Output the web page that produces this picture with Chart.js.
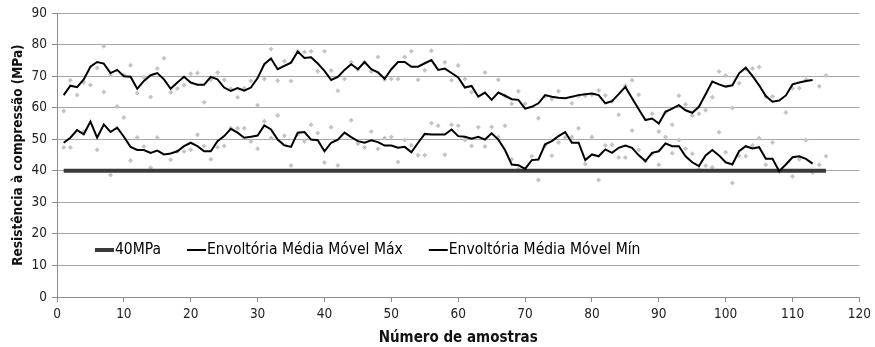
<!DOCTYPE html>
<html>
<head>
<meta charset="utf-8">
<script src="https://cdn.jsdelivr.net/npm/chart.js@4"></script>
<style>
  html, body { margin: 0; padding: 0; background: #fff; }
  #wrap { width: 875px; height: 347px; }
</style>
</head>
<body>
<div id="wrap"><canvas id="grafico"></canvas></div>
<script>
// Moving-average envelopes (samples 1..113)
const mediaMovelMax = [
  64, 67, 66.5, 69, 73, 74.5, 74, 71, 72, 70, 69.8, 66, 68.5, 70.3, 71, 69, 66, 68, 69.8, 68,
  67.3, 67.3, 69.8, 69, 66.4, 65.3, 66.2, 65.4, 66.4, 69.4, 73.8, 75.6, 72.2, 73.3, 74.3, 77.8, 75.8, 76, 74, 71.7,
  68.8, 69.8, 72, 73.8, 72.2, 74.5, 72.2, 71.2, 69.2, 72.2, 74.5, 74.5, 73, 73, 74.1, 75.1, 72, 72.4, 71, 69.6,
  66.4, 66.9, 63.5, 64.8, 62.5, 64.8, 63.8, 62.7, 62.5, 59.7, 60.3, 61.4, 64, 63.5, 63.2, 63, 63.5, 64, 64.3, 64.5,
  64, 61.4, 62.1, 64.3, 66.6, 63, 59.5, 56.1, 56.6, 55, 58.7, 59.7, 60.8, 59.2, 58.4, 60.3, 64.3, 68.3, 67.4, 66.7,
  67.1, 70.9, 72.7, 70.1, 67.1, 63.7, 61.9, 62.3, 63.9, 67.4, 68, 68.5, 68.8
];
const mediaMovelMin = [
  48.9, 50.5, 52.9, 51.6, 55.6, 50.5, 54.7, 52.3, 53.7, 50.8, 47.6, 46.6, 46.6, 45.7, 46.4, 45.2, 45.5, 46.2, 47.8, 48.9,
  47.8, 46.2, 46.2, 49.4, 51, 53.3, 52.1, 50.5, 50.8, 51.2, 54.4, 53.1, 49.9, 48.1, 47.6, 52.1, 52.3, 49.9, 49.7, 46.2,
  48.9, 49.9, 52.1, 50.7, 49.4, 48.9, 49.7, 49.1, 48, 48, 47.3, 47.6, 45.9, 48.9, 51.7, 51.5, 51.5, 51.5, 53.1, 51,
  50.8, 50.2, 50.8, 49.9, 51.9, 49.9, 46.6, 42, 41.8, 40.6, 43.4, 43.6, 48.4, 49.4, 51, 52.3, 48.9, 48.9, 43.4, 45.2,
  44.6, 46.8, 45.7, 47.3, 48, 47.3, 44.9, 43.1, 45.7, 46.2, 48.7, 47.8, 47.8, 44.6, 42.7, 41.5, 44.9, 46.6, 44.9, 42.7,
  42, 46.2, 47.8, 47.1, 47.5, 43.8, 43.8, 39.9, 42, 44.3, 44.6, 43.8, 42.3
];

// Individual results per sample (1..115), two readings each
const ensaio1 = [
  59, 68.7, 64, 68, 67.2, 72.6, 79.5, 70.5, 60.4, 70.4, 73.5, 64.7, 69.7, 63.4, 72.4, 75.7, 64.9, 66.1, 67.2, 70.8,
  71, 61.7, 68.9, 71.2, 68.9, 66, 63.3, 66.2, 68.5, 60.8, 69.1, 78.6, 68.6, 74.7, 68.5, 77.9, 77.7, 77.9, 71.6, 77.9,
  71.8, 65.4, 69.1, 74.4, 72.1, 74.4, 71.5, 76.1, 68.9, 69.1, 69.1, 76.1, 77.9, 68.9, 71.9, 78.1, null, 74.4, 68.7, 73.4,
  69.1, 64.9, null, 71.2, null, 68.9, 63.8, 61.3, 65.2, 61.3, null, 56.7, 63.6, 62.8, 65.2, null, 61.4, 63.7, 63.8, 64.1,
  65.5, 63.9, 62, 57.8, 67, 68.7, 64.1, null, 58.1, 52.5, 58.5, 54.6, 63.8, 61, 57.5, 58.1, 59.2, 63.3, 71.5, 70.2,
  59.9, 67.8, 72.3, 72.4, 72.9, 63.6, 63.6, null, 58.5, 66.2, 66.2, 68.9, null, 66.8, 70.2
];
const ensaio2 = [
  47.4, 47.4, null, 52.5, null, 46.7, 65, 38.7, null, 56.9, 43.3, 50.6, 47.7, 41, 50.6, null, 43.5, 46.1, 46.1, 46.7,
  51.4, 47.9, 43.7, 47.5, 47.9, 53.5, 53.5, 53.5, 49.3, 47, 55.7, 50.4, 57.5, 51.1, 41.7, 51.6, 49.4, 54.6, 52, 42.6,
  53.8, 41.7, null, 56, 48.6, 47.4, 52.5, 47, 50.4, 50.7, 42.8, 49.8, 48.1, 44.9, 44.9, 55.1, 54.3, 45.1, 54.6, 54.3,
  49.8, 47.9, 53.8, 47.7, 53.9, 50.7, 54.3, 43.7, 40.5, 40, 44.6, 37.1, 48, 44.8, 49, 50.6, 50.7, 53.5, 42.2, 50.7,
  37.1, 48, 48.3, 44.2, 44.2, 52.8, 46.7, 43, 45.4, 41.9, 50.7, 45.6, 49.8, 47, 45.4, 40.5, 41.6, 41.1, 52.2, 45.9,
  36.1, 44.8, 44.6, 48, 50.4, 41.9, 49, 39.8, null, 38.2, 43.7, 49.8, 39.5, 41.9, 44.6
];

// Reference strength line
const limiteMPa = 40;
const limiteAmostras = [1, 115];

const legendaItens = [
  { texto: '40MPa', cor: '#3a3a3a', largura: 4 },
  { texto: 'Envoltória Média Móvel Máx', cor: '#000', largura: 2 },
  { texto: 'Envoltória Média Móvel Mín', cor: '#000', largura: 2 }
];

const fonte = "'Liberation Sans Narrow', 'DejaVu Sans Condensed', sans-serif";

function serie(valores) {
  return valores.map((v, i) => ({ x: i + 1, y: v }));
}

// legend drawn inside the plot area, near the bottom
const legendaInterna = {
  id: 'legendaInterna',
  afterDraw(chart) {
    const ctx = chart.ctx;
    const area = chart.chartArea;
    const y = area.bottom - 47;
    let x = area.left + 38;
    ctx.save();
    ctx.font = '15.5px ' + fonte;
    ctx.textBaseline = 'middle';
    ctx.fillStyle = '#000';
    legendaItens.forEach(item => {
      ctx.strokeStyle = item.cor;
      ctx.lineWidth = item.largura;
      ctx.beginPath();
      ctx.moveTo(x, y);
      ctx.lineTo(x + 19, y);
      ctx.stroke();
      ctx.fillText(item.texto, x + 20, y);
      x += 20 + ctx.measureText(item.texto).width + 26;
    });
    ctx.restore();
  }
};

const ctx = document.getElementById('grafico').getContext('2d');
new Chart(ctx, {
  type: 'scatter',
  data: {
    datasets: [
      {
        label: 'Envoltória Média Móvel Máx',
        type: 'line',
        data: serie(mediaMovelMax),
        borderColor: '#000',
        borderWidth: 2,
        pointRadius: 0,
        tension: 0
      },
      {
        label: 'Envoltória Média Móvel Mín',
        type: 'line',
        data: serie(mediaMovelMin),
        borderColor: '#000',
        borderWidth: 2,
        pointRadius: 0,
        tension: 0
      },
      {
        label: '40MPa',
        type: 'line',
        data: limiteAmostras.map(n => ({ x: n, y: limiteMPa })),
        borderColor: '#3a3a3a',
        borderWidth: 4,
        pointRadius: 0
      },
      {
        label: 'Ensaio 1',
        data: serie(ensaio1),
        pointStyle: 'rectRot',
        pointRadius: 2.5,
        backgroundColor: '#c4c4c4',
        borderColor: '#c4c4c4',
        borderWidth: 0
      },
      {
        label: 'Ensaio 2',
        data: serie(ensaio2),
        pointStyle: 'rectRot',
        pointRadius: 2.5,
        backgroundColor: '#c4c4c4',
        borderColor: '#c4c4c4',
        borderWidth: 0
      }
    ]
  },
  options: {
    responsive: true,
    maintainAspectRatio: false,
    animation: false,
    layout: { padding: { left: 0, right: 12, top: 13, bottom: 0 } },
    plugins: {
      legend: { display: false },
      tooltip: { enabled: false }
    },
    scales: {
      x: {
        type: 'linear',
        min: 0,
        max: 120,
        ticks: { stepSize: 10, color: '#222', font: { family: fonte, size: 13.5 }, padding: 4 },
        grid: { drawOnChartArea: false, drawTicks: true, tickLength: 5, color: '#8c8c8c' },
        border: { color: '#8c8c8c' },
        title: {
          display: true,
          text: 'Número de amostras',
          color: '#111',
          font: { family: fonte, size: 15, weight: 'bold' },
          padding: { top: 7, bottom: 0 }
        },
        afterFit(scale) { scale.height = 50; }
      },
      y: {
        min: 0,
        max: 90,
        ticks: { stepSize: 10, color: '#222', font: { family: fonte, size: 13.5 }, padding: 5 },
        grid: { color: '#a6a6a6', lineWidth: 1, drawTicks: true, tickLength: 5, tickColor: '#8c8c8c' },
        border: { color: '#8c8c8c' },
        title: {
          display: true,
          text: 'Resistência à compressão (MPa)',
          color: '#111',
          font: { family: fonte, size: 13.5, weight: 'bold' },
          padding: { top: 10, bottom: 4 }
        },
        afterFit(scale) { scale.width = 57; }
      }
    }
  },
  plugins: [legendaInterna]
});
</script>
</body>
</html>
